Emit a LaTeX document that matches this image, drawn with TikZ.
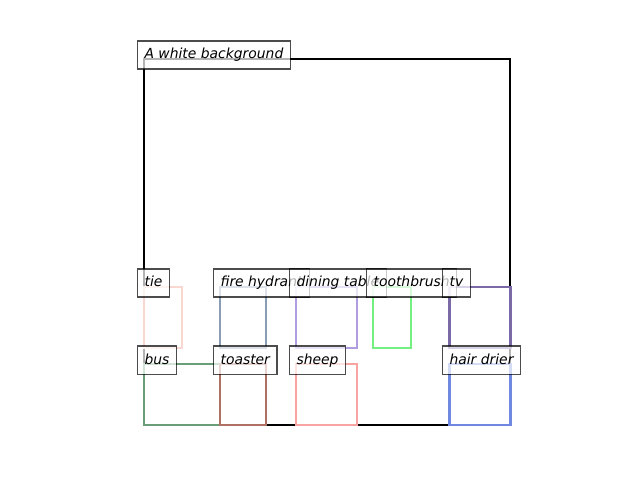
\documentclass[tikz,border=0pt]{standalone}
\usepackage{fontspec}
\setmainfont{DejaVu Sans}
\definecolor{tiecol}{HTML}{F8D8D0}
\definecolor{hydrantcol}{HTML}{8A9DB6}
\definecolor{tablecol}{HTML}{B09DE0}
\definecolor{brushcol}{HTML}{74F080}
\definecolor{tvcol}{HTML}{7A6AA8}
\definecolor{buscol}{HTML}{6A9E78}
\definecolor{toastercol}{HTML}{B07064}
\definecolor{sheepcol}{HTML}{F8A4A0}
\definecolor{driercol}{HTML}{7088E0}
\begin{document}
\begin{tikzpicture}[x=0.72bp,y=-0.72bp,
  frame/.style={line width=1.5bp,draw=black},
  objbox/.style={line width=2.15bp},
  tag/.style={anchor=base west,draw=black,fill=white,opacity=0.7,text opacity=1,
    line width=0.8bp,inner xsep=5.04bp,inner ysep=5.04bp,
    text height=7.9bp,text depth=2.2bp,xshift=-5.04bp,
    font=\fontsize{10bp}{12bp}\selectfont\itshape}]
\useasboundingbox (0,0) rectangle (640,480);

% image frame
\coordinate (frameTL) at (144,59);
\coordinate (frameBR) at (510,425);
\draw[frame] (frameTL) rectangle (frameBR);

% object boxes
\coordinate (tieA) at (144,287);     \coordinate (tieB) at (182,348);
\coordinate (hydA) at (220,287);     \coordinate (hydB) at (266,348);
\coordinate (tabA) at (296,287);     \coordinate (tabB) at (357,348);
\coordinate (bruA) at (373,287);     \coordinate (bruB) at (411,348);
\coordinate (tvA)  at (449,287);     \coordinate (tvB)  at (510,348);
\coordinate (busA) at (144,364);     \coordinate (busB) at (220,425);
\coordinate (toaA) at (220,364);     \coordinate (toaB) at (266,425);
\coordinate (shA)  at (296,364);     \coordinate (shB)  at (357,425);
\coordinate (drA)  at (449,364);     \coordinate (drB)  at (510,425);

\draw[objbox,tiecol]     (tieA) rectangle (tieB);
\draw[objbox,hydrantcol] (hydA) rectangle (hydB);
\draw[objbox,tablecol]   (tabA) rectangle (tabB);
\draw[objbox,brushcol]   (bruA) rectangle (bruB);
\draw[objbox,tvcol]      (tvA)  rectangle (tvB);
\draw[objbox,buscol]     (busA) rectangle (busB);
\draw[objbox,toastercol] (toaA) rectangle (toaB);
\draw[objbox,sheepcol]   (shA)  rectangle (shB);
\draw[objbox,driercol]   (drA)  rectangle (drB);

% captions
\node[tag] (capBg)  at (frameTL) {A white background};
\node[tag] (capTie) at (tieA) {tie};
\node[tag] (capHyd) at (hydA) {fire hydrant};
\node[tag] (capTab) at (tabA) {dining table};
\node[tag] (capBru) at (bruA) {toothbrush};
\node[tag] (capTv)  at (tvA)  {tv};
\node[tag] (capBus) at (busA) {bus};
\node[tag] (capToa) at (toaA) {toaster};
\node[tag] (capSh)  at (shA)  {sheep};
\node[tag] (capDr)  at (drA)  {hair drier};
\end{tikzpicture}
\end{document}
